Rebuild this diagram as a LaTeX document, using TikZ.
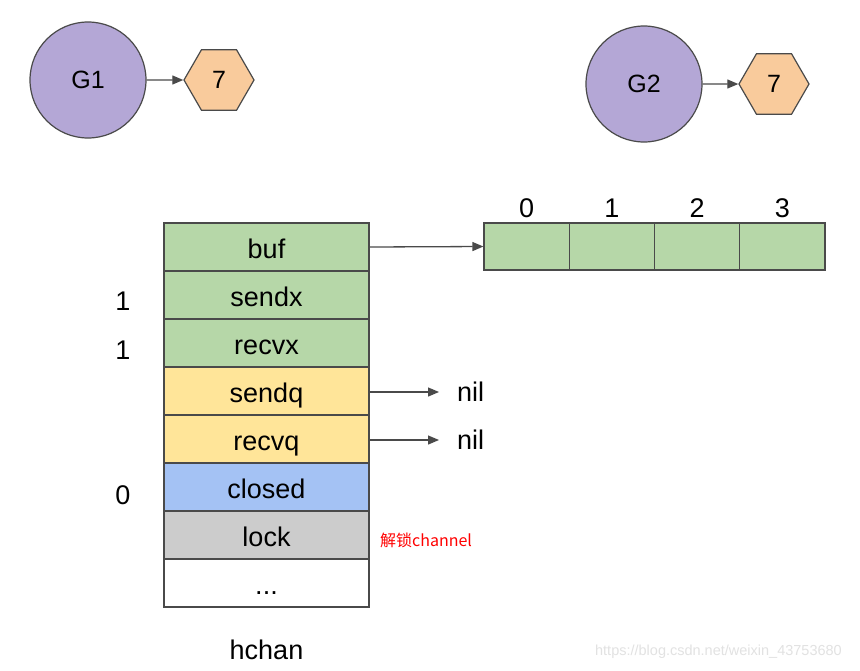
\documentclass[tikz,border=0pt]{standalone}
\usepackage{fontspec}
\setmainfont{Liberation Sans}
\newfontfamily\cjk{Noto Sans CJK SC}
\usetikzlibrary{arrows.meta,shapes.geometric}
\definecolor{gpurple}{HTML}{B4A7D6}
\definecolor{gorange}{HTML}{F9CB9C}
\definecolor{ggreen}{HTML}{B6D7A8}
\definecolor{gyellow}{HTML}{FFE599}
\definecolor{gblue}{HTML}{A4C2F4}
\definecolor{ggray}{HTML}{CCCCCC}
\definecolor{edge}{HTML}{4A4A4A}
\definecolor{wm}{HTML}{E2E2E2}
\tikzset{
  txt/.style={font=\fontsize{25}{30}\selectfont, text=black},
  bigtxt/.style={font=\fontsize{27}{32}\selectfont, text=black},
  gor/.style={circle, draw=edge, line width=1.2pt, fill=gpurple, minimum size=116pt, inner sep=0pt, txt},
  hexa/.style={regular polygon, regular polygon sides=6, draw=edge, line width=1.2pt, fill=gorange, minimum size=70pt, inner sep=0pt, txt},
  field/.style={rectangle, draw=edge, line width=1.2pt, minimum width=205pt, minimum height=48pt, inner sep=0pt, bigtxt, text height=22pt, text depth=0pt},
  cell/.style={rectangle, draw=edge, line width=1.2pt, fill=ggreen, minimum width=85.25pt, minimum height=47pt, inner sep=0pt},
  arr/.style={draw=edge, line width=1.3pt, -{Triangle[length=11pt,width=9pt]}},
  lbl/.style={bigtxt, inner sep=0pt}
}
\begin{document}
\begin{tikzpicture}[x=1pt,y=-1pt]
\useasboundingbox[fill=white] (0,0) rectangle (860,670);
% goroutines
\node[gor] (g1) at (88,80) {G1};
\node[hexa] (h1) at (219,80) {7};
\draw[arr] (g1) -- (h1);
\node[gor] (g2) at (644,84) {G2};
\node[hexa] (h2) at (774,84) {7};
\draw[arr] (g2) -- (h2);
% hchan fields
\node[field, fill=ggreen]  (buf)    at (266.5,247) {buf};
\node[field, fill=ggreen]  (sendx)  at (266.5,295) {sendx};
\node[field, fill=ggreen]  (recvx)  at (266.5,343) {recvx};
\node[field, fill=gyellow] (sendq)  at (266.5,391) {sendq};
\node[field, fill=gyellow] (recvq)  at (266.5,439) {recvq};
\node[field, fill=gblue]   (closed) at (266.5,487) {closed};
\node[field, fill=ggray]   (lock)   at (266.5,535) {lock};
\node[field, fill=white]   (more)   at (266.5,583) {...};
\node[lbl] (hchan) at (266.5,650) {hchan};
% left values
\node[lbl] (vsendx) at (123,301) {1};
\node[lbl] (vrecvx) at (123,350) {1};
\node[lbl] (vclosed) at (123,495) {0};
% buffer
\node[cell] (c0) at (526.6,246.5) {};
\node[cell] (c1) at (611.9,246.5) {};
\node[cell] (c2) at (697.1,246.5) {};
\node[cell] (c3) at (782.4,246.5) {};
\node[lbl] (i0) at (526.6,208) {0};
\node[lbl] (i1) at (611.9,208) {1};
\node[lbl] (i2) at (697.1,208) {2};
\node[lbl] (i3) at (782.4,208) {3};
\draw[arr] (buf.east) -- (c0.west);
% nil pointers
\node[lbl, anchor=west] (nil1) at (457,392) {nil};
\node[lbl, anchor=west] (nil2) at (457,440) {nil};
\coordinate (e1) at (439,392);
\coordinate (e2) at (439,440);
\draw[arr] (sendq.east |- e1) -- (e1);
\draw[arr] (recvq.east |- e2) -- (e2);
% annotation
\node[anchor=west, inner sep=0pt, text=red, font=\cjk\fontsize{16}{19}\selectfont] (note) at (380,540) {解锁channel};
% watermark
\node[anchor=east, inner sep=0pt, text=wm, font=\fontsize{14.5}{17}\selectfont] (wmark) at (842,652) {https://blog.csdn.net/weixin\_43753680};
\end{tikzpicture}
\end{document}
